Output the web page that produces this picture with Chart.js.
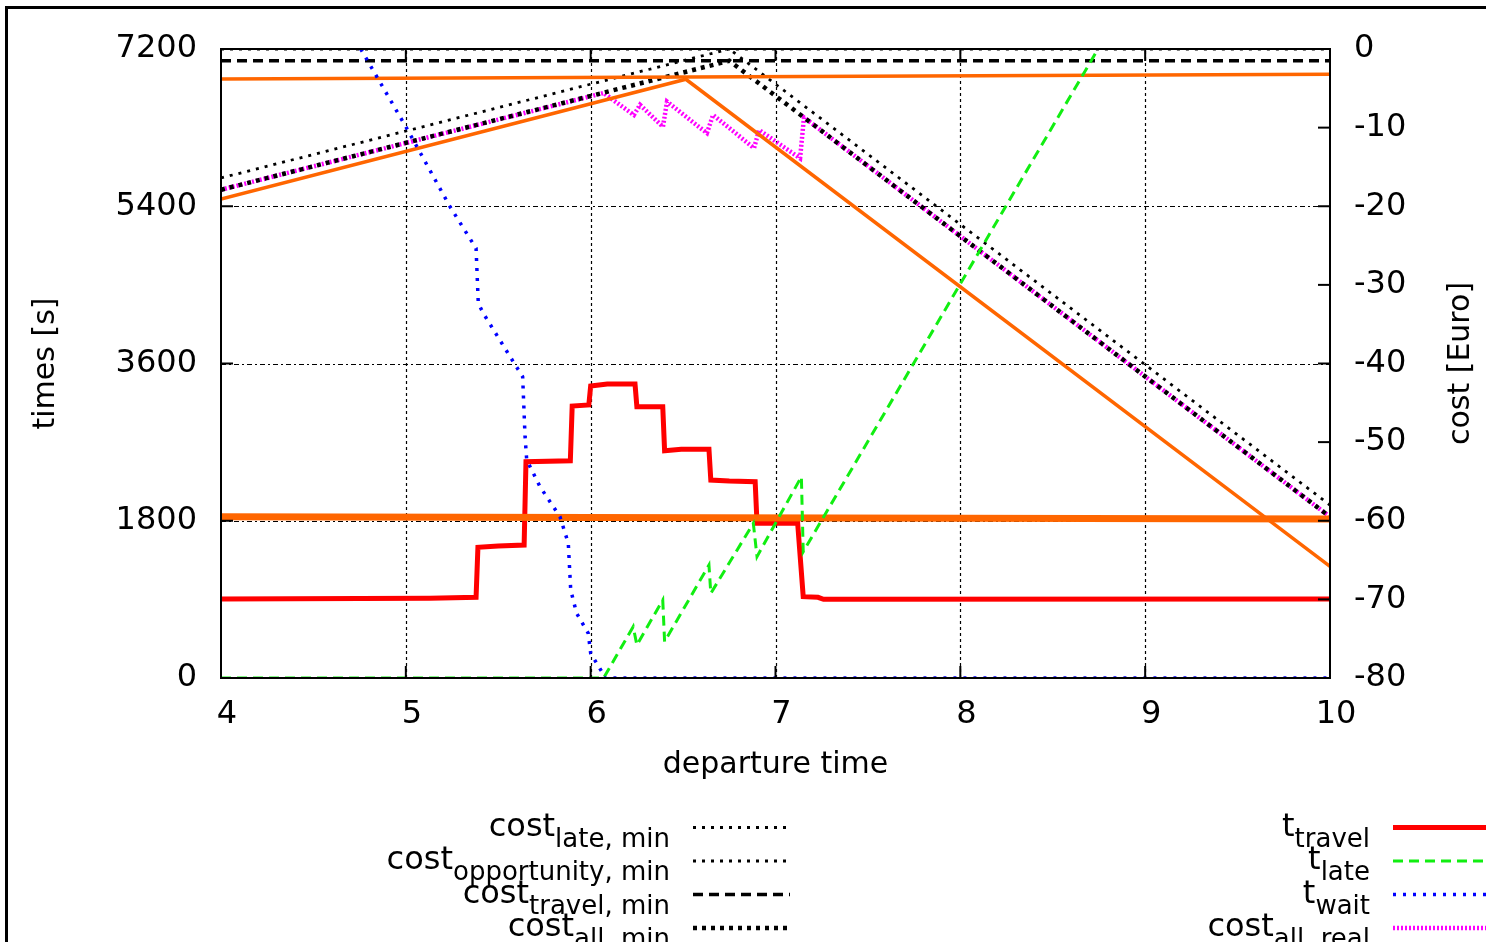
<!DOCTYPE html>
<html>
<head>
<meta charset="utf-8">
<title>times and costs over departure time</title>
<script src="https://cdn.jsdelivr.net/npm/chart.js@4.4.1/dist/chart.umd.min.js"></script>
<style>
  html, body { margin: 0; padding: 0; background: #fff; overflow: hidden; }
  #page { position: relative; width: 1486px; height: 942px; overflow: hidden; font-family: "DejaVu Sans", sans-serif; }
  #outline { position: absolute; left: 5px; top: 6px; width: 3000px; height: 3000px; border-left: 3px solid #000; border-top: 3px solid #000; }
  #chart-box { position: absolute; left: 0; top: 0; width: 1486px; height: 942px; }
  .key { position: absolute; font-size: 32px; line-height: 40px; white-space: nowrap; text-align: right; color: #000; }
  .key sub { font-size: 26px; vertical-align: -11px; line-height: 0; }
</style>
</head>
<body>
<div id="page">
  <div id="outline"></div>
  <div id="chart-box"><canvas id="cost-chart"></canvas></div>
  <div id="key"></div>
</div>
<script>
// departure time [h], axis ticks
const xTicks = [4, 5, 6, 7, 8, 9, 10];
const timeTicks = [0, 1800, 3600, 5400, 7200];
const costTicks = [-80, -70, -60, -50, -40, -30, -20, -10, 0];

// t_travel [s]
const travelHours = [4.0, 5.13, 5.38, 5.39, 5.5, 5.64, 5.65, 5.89, 5.9, 5.99, 6.0, 6.09, 6.24, 6.25, 6.39, 6.4, 6.49, 6.64, 6.65, 6.75, 6.89, 6.9, 7.12, 7.15, 7.23, 7.26, 10.0];
const travelSec = [904, 912, 924, 1496, 1511, 1522, 2476, 2487, 3113, 3125, 3342, 3365, 3365, 3106, 3106, 2602, 2618, 2618, 2266, 2255, 2247, 1771, 1771, 931, 924, 901, 904];

// t_late [s]
const lateHours = [4.0, 6.07, 6.23, 6.25, 6.39, 6.4, 6.64, 6.65, 6.88, 6.9, 7.14, 7.15, 8.745];
const lateSec = [0, 0, 587, 378, 893, 416, 1293, 969, 1771, 1389, 2304, 1446, 7200];

// t_wait [s]
const waitHours = [4.756, 5.005, 5.239, 5.38, 5.392, 5.419, 5.581, 5.632, 5.645, 5.654, 5.726, 5.834, 5.879, 5.892, 5.924, 5.987, 6.0, 6.06, 6.072, 10.0];
const waitSec = [7200, 6292, 5395, 4918, 4289, 4175, 3621, 3449, 2762, 2495, 2190, 1846, 1542, 1007, 741, 512, 283, 72, 0, 0];

// minimal costs [Euro]
const costHours = [4, 6.75, 10];
const costLateMin = [0, 0, -58];
const costOpportunityMin = [-16.4, 0, 0];
const costTravelMin = [-1.5, -1.5, -1.5];
const costAllMin = [-17.9, -1.5, -59.5];

// real cost [Euro]
const realHours = [4, 6.07, 6.234, 6.267, 6.391, 6.413, 6.629, 6.662, 6.884, 6.911, 7.133, 7.154, 10];
const realCost = [-17.9, -5.6, -8.4, -7.1, -9.9, -6.7, -10.7, -8.4, -12.6, -10.3, -13.9, -8.7, -59.5];

// orange reference lines
const orangeFlatHours = [4, 10];
const orangeFlatCost = [-3.8, -3.2];
const orangePeakHours = [4, 6.515, 10];
const orangePeakCost = [-19.1, -3.85, -65.8];
const orangeBarHours = [4, 10];
const orangeBarSec = [1845, 1820];

// key entries (main text + subscript)
const keyLeftMain = ["cost", "cost", "cost", "cost"];
const keyLeftSub = ["late, min", "opportunity, min", "travel, min", "all, min"];
const keyLeftSeries = ["cost_late, min", "cost_opportunity, min", "cost_travel, min", "cost_all, min"];
const keyRightMain = ["t", "t", "t", "cost"];
const keyRightSub = ["travel", "late", "wait", "all, real"];
const keyRightSeries = ["t_travel", "t_late", "t_wait", "cost_all, real"];
const keyRowY = [827.5, 861, 894.5, 928];

const FONT = "'DejaVu Sans', sans-serif";
Chart.defaults.font.family = FONT;
Chart.defaults.color = "#000";

function pts(xs, ys) {
  return xs.map((x, i) => ({ x, y: ys[i] }));
}

function line(label, xs, ys, axis, color, width, dash, order) {
  return {
    label,
    data: pts(xs, ys),
    yAxisID: axis,
    borderColor: color,
    backgroundColor: color,
    borderWidth: width,
    borderDash: dash,
    borderCapStyle: "butt",
    borderJoinStyle: "miter",
    pointRadius: 0,
    tension: 0,
    fill: false,
    order,
  };
}

const datasets = [
  line("t_wait", waitHours, waitSec, "y", "#0000ff", 3.5, [3, 7], 1),
  line("t_late", lateHours, lateSec, "y", "#11ee11", 3, [10, 6], 2),
  line("orange 1800", orangeBarHours, orangeBarSec, "y", "#ff6600", 7, [], 3),
  line("t_travel", travelHours, travelSec, "y", "#ff0000", 5, [], 4),
  line("orange flat", orangeFlatHours, orangeFlatCost, "y1", "#ff6600", 3.5, [], 5),
  line("orange peak", orangePeakHours, orangePeakCost, "y1", "#ff6600", 3.5, [], 6),
  line("cost_all, min", costHours, costAllMin, "y1", "#000000", 4.5, [4, 5], 7),
  line("cost_all, real", realHours, realCost, "y1", "#ff00ff", 4.5, [2, 2], 8),
  line("cost_travel, min", costHours, costTravelMin, "y1", "#000000", 3.5, [10, 6], 9),
  line("cost_opportunity, min", costHours, costOpportunityMin, "y1", "#000000", 2.8, [3, 6], 10),
  line("cost_late, min", costHours, costLateMin, "y1", "#000000", 2.8, [3, 6], 11),
];

function strokeLine(ctx, x0, y0, x1, y1) {
  ctx.beginPath();
  ctx.moveTo(x0, y0);
  ctx.lineTo(x1, y1);
  ctx.stroke();
}

const framePlugin = {
  id: "gnuframe",
  beforeDatasetsDraw(chart) {
    const { ctx, chartArea: a, scales } = chart;
    ctx.save();
    ctx.strokeStyle = "#000";
    ctx.lineWidth = 1.2;
    ctx.setLineDash([3, 3]);
    xTicks.slice(1, -1).forEach((v) => {
      const px = Math.round(scales.x.getPixelForValue(v)) + 0.5;
      strokeLine(ctx, px, a.bottom, px, a.top);
    });
    ctx.setLineDash([5, 3, 2, 3]);
    timeTicks.slice(1, -1).forEach((v) => {
      const py = Math.round(scales.y.getPixelForValue(v)) + 0.5;
      strokeLine(ctx, a.left, py, a.right, py);
    });
    ctx.restore();
  },
  afterDatasetsDraw(chart) {
    const { ctx, chartArea: a, scales } = chart;
    const tick = 12;
    ctx.save();
    ctx.strokeStyle = "#000";
    ctx.lineWidth = 2;
    ctx.setLineDash([]);
    ctx.strokeRect(a.left, a.top, a.right - a.left, a.bottom - a.top);
    xTicks.slice(1, -1).forEach((v) => {
      const px = scales.x.getPixelForValue(v);
      strokeLine(ctx, px, a.bottom, px, a.bottom - tick);
      strokeLine(ctx, px, a.top, px, a.top + tick);
    });
    timeTicks.slice(1, -1).forEach((v) => {
      const py = scales.y.getPixelForValue(v);
      strokeLine(ctx, a.left, py, a.left + tick, py);
    });
    costTicks.slice(1, -1).forEach((v) => {
      const py = scales.y1.getPixelForValue(v);
      strokeLine(ctx, a.right, py, a.right - tick, py);
    });
    ctx.restore();
  },
  afterDraw(chart) {
    const { ctx, chartArea: a } = chart;
    ctx.save();
    // right axis title, reading upwards
    ctx.translate(1461, (a.top + a.bottom) / 2);
    ctx.rotate(-Math.PI / 2);
    ctx.font = "30px " + FONT;
    ctx.fillStyle = "#000";
    ctx.textAlign = "center";
    ctx.textBaseline = "middle";
    ctx.fillText("cost [Euro]", 0, 0);
    ctx.restore();

    // key samples
    const drawSample = (label, x0, x1, y) => {
      const ds = chart.data.datasets.find((d) => d.label === label);
      if (!ds) return;
      ctx.save();
      ctx.strokeStyle = ds.borderColor;
      ctx.lineWidth = ds.borderWidth;
      ctx.lineCap = "butt";
      ctx.setLineDash(ds.borderDash || []);
      strokeLine(ctx, x0, y, x1, y);
      ctx.restore();
    };
    keyLeftSeries.forEach((s, i) => drawSample(s, 693, 790, keyRowY[i]));
    keyRightSeries.forEach((s, i) => drawSample(s, 1393, 1500, keyRowY[i]));
  },
};

function buildKey() {
  const key = document.getElementById("key");
  const rows = [];
  keyLeftMain.forEach((m, i) => {
    rows.push(`<div class="key" style="right:${1486 - 670}px;top:${keyRowY[i] + 8 - 31}px">${m}<sub>${keyLeftSub[i]}</sub></div>`);
  });
  keyRightMain.forEach((m, i) => {
    rows.push(`<div class="key" style="right:${1486 - 1370}px;top:${keyRowY[i] + 8 - 31}px">${m}<sub>${keyRightSub[i]}</sub></div>`);
  });
  key.innerHTML = rows.join("");
}

function setTicks(values) {
  return (scale) => {
    scale.ticks = values.map((v) => ({ value: v }));
  };
}

const tickFont = { family: FONT, size: 32 };
const titleFont = { family: FONT, size: 30 };

new Chart(document.getElementById("cost-chart").getContext("2d"), {
  type: "line",
  data: { datasets },
  options: {
    responsive: true,
    maintainAspectRatio: false,
    animation: false,
    layout: { padding: { top: 49, left: 0, right: 0, bottom: 0 } },
    plugins: {
      legend: { display: false },
      tooltip: { enabled: false },
    },
    scales: {
      x: {
        type: "linear",
        min: 4,
        max: 10,
        afterBuildTicks: setTicks(xTicks),
        afterFit: (s) => { s.height = 264; },
        grid: { display: false, drawTicks: false },
        border: { display: false },
        ticks: { font: tickFont, color: "#000", padding: 17, labelOffset: 6, maxRotation: 0, autoSkip: false, callback: (v) => String(v) },
        title: { display: true, text: "departure time", font: titleFont, color: "#000", padding: { top: 0, bottom: 159 } },
      },
      y: {
        position: "left",
        min: 0,
        max: 7200,
        afterBuildTicks: setTicks(timeTicks),
        afterFit: (s) => { s.width = 221; },
        grid: { display: false, drawTicks: false },
        border: { display: false },
        ticks: { font: tickFont, color: "#000", padding: 24, autoSkip: false, callback: (v) => String(v) },
        title: { display: true, text: "times [s]", font: titleFont, color: "#000", padding: { top: 28, bottom: 0 } },
      },
      y1: {
        position: "right",
        min: -80,
        max: 0,
        afterBuildTicks: setTicks(costTicks),
        afterFit: (s) => { s.width = 156; },
        grid: { display: false, drawTicks: false },
        border: { display: false },
        ticks: { font: tickFont, color: "#000", padding: 24, autoSkip: false, callback: (v) => String(v) },
      },
    },
  },
  plugins: [framePlugin],
});

buildKey();
</script>
</body>
</html>
